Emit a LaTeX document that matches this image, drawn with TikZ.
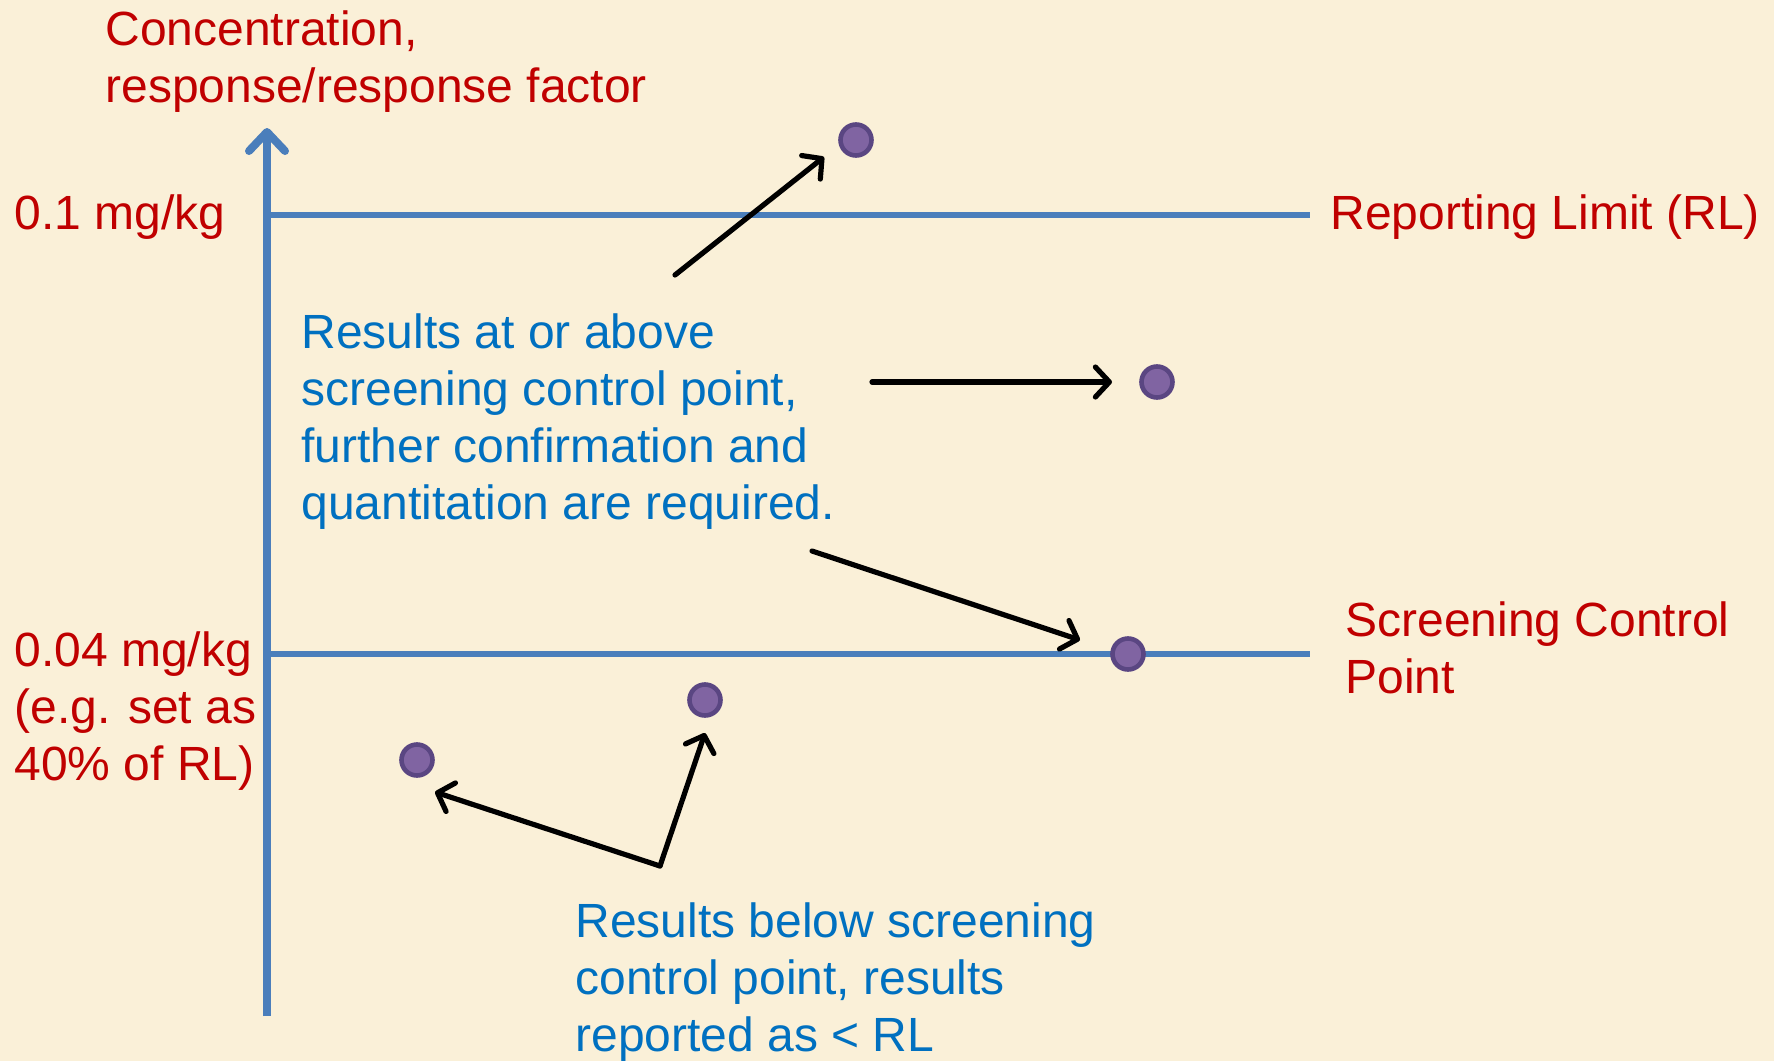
\documentclass[tikz,border=0pt]{standalone}
\usepackage{fontspec}
\setmainfont{Liberation Sans}
\usetikzlibrary{arrows.meta}
\definecolor{bgc}{HTML}{FAF0D8}
\definecolor{axisblue}{HTML}{4A7EBB}
\definecolor{txtred}{HTML}{C00000}
\definecolor{txtblue}{HTML}{0070C0}
\definecolor{dotfill}{HTML}{8064A2}
\definecolor{dotedge}{HTML}{5A4682}
\tikzset{
  redtxt/.style={text=txtred, font=\fontsize{24}{28.5}\selectfont, inner sep=0pt, align=left, anchor=base west},
  bluetxt/.style={text=txtblue, font=\fontsize{24}{28.5}\selectfont, inner sep=0pt, align=left, anchor=base west},
  dot/.style={circle, fill=dotfill, draw=dotedge, line width=2.3pt, minimum size=15.5pt, inner sep=0pt},
  levelline/.style={draw=axisblue, line width=3.4pt},
  pointer/.style={draw=black, line width=2.6pt, line cap=round, -{Straight Barb[length=7pt,width=15pt,line cap=round,line join=round]}},
}
\begin{document}
\begin{tikzpicture}[x=0.5pt,y=-0.5pt]
\fill[bgc] (0,0) rectangle (1774,1061);
\useasboundingbox (0,0) rectangle (1774,1061);
% axis
\coordinate (axbot) at (267,1016);
\coordinate (axtop) at (267,128);
\draw[draw=axisblue, line width=4pt, -{Straight Barb[length=9.5pt,width=18pt,line cap=round,line join=round]}] (axbot) -- (axtop);
% levels
\coordinate (rlA) at (267,215);
\coordinate (rlB) at (1310,215);
\coordinate (scA) at (267,654);
\coordinate (scB) at (1310,654);
\draw[levelline] (rlA) -- (rlB);
\draw[levelline] (scA) -- (scB);
% labels (anchor = baseline of last line)
\node[redtxt] (ytitle) at (105,102) {Concentration,\\response/response factor};
\node[redtxt] (rlval) at (14,229) {0.1 mg/kg};
\node[redtxt] (rllab) at (1330,229) {Reporting Limit (RL)};
\node[redtxt] (scval) at (14,780) {0.04 mg/kg\\(e.g. set as\\40\% of RL)};
\node[redtxt] (sclab) at (1345,693) {Screening Control\\Point};
\node[bluetxt] (above) at (301,519) {Results at or above\\screening control point,\\further confirmation and\\quantitation are required.};
\node[bluetxt] (below) at (575,1051) {Results below screening\\control point, results\\reported as < RL};
% dots
\node[dot] (d1) at (856,140) {};
\node[dot] (d2) at (1157,382) {};
\node[dot] (d3) at (1128,654) {};
\node[dot] (d4) at (705,700) {};
\node[dot] (d5) at (417,760) {};
% arrows
\coordinate (a1s) at (675,275);
\coordinate (a1e) at (824,157);
\coordinate (a2s) at (872,382);
\coordinate (a2e) at (1112,382);
\coordinate (a3s) at (812,551);
\coordinate (a3e) at (1080,640);
\coordinate (corner) at (660,866);
\coordinate (a4e) at (435,792);
\coordinate (a5e) at (705,733);
\draw[pointer] (a1s) -- (a1e);
\draw[pointer] (a2s) -- (a2e);
\draw[pointer] (a3s) -- (a3e);
\draw[pointer] (corner) -- (a4e);
\draw[pointer] (corner) -- (a5e);
\end{tikzpicture}
\end{document}
